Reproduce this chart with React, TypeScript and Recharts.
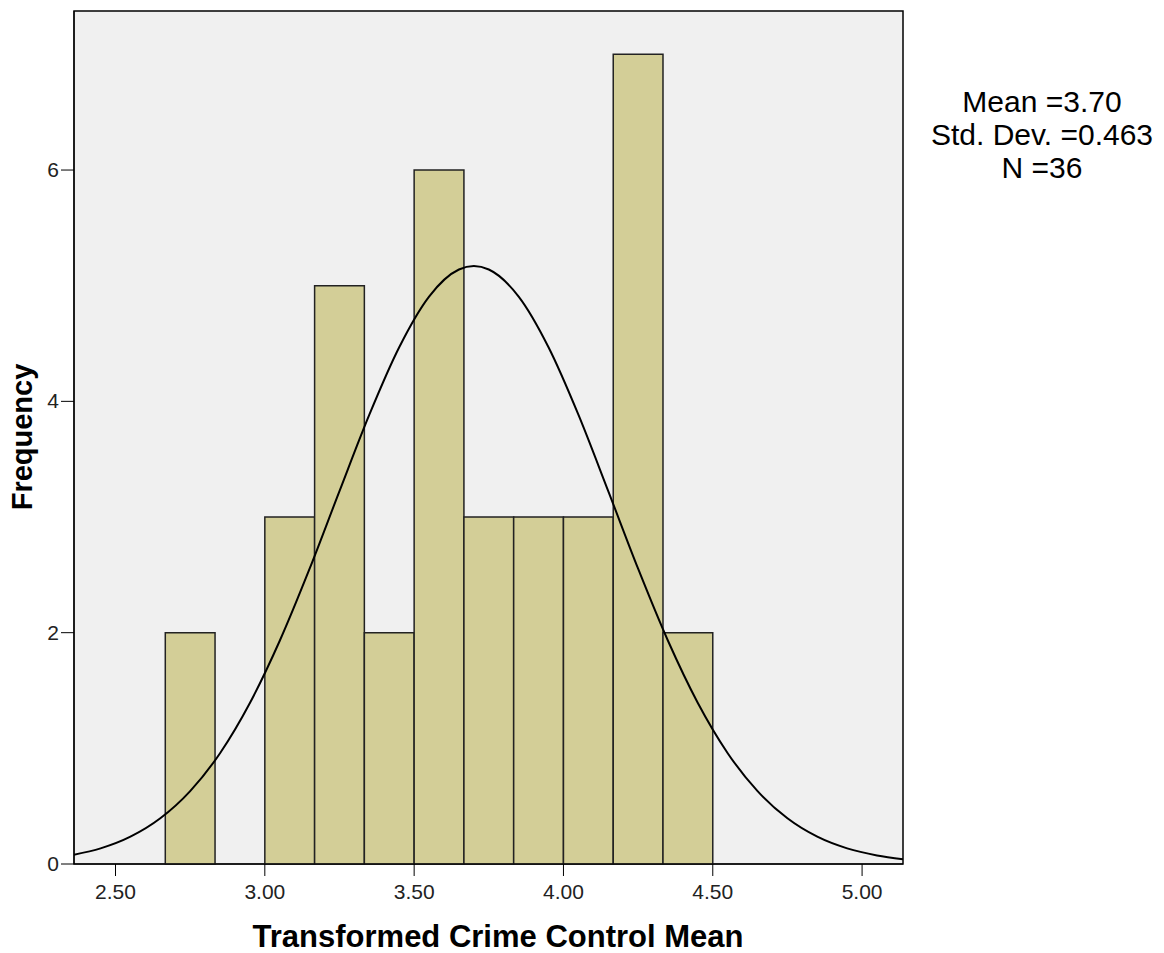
import React from 'react';
import { ComposedChart, Line, XAxis, YAxis, ReferenceArea } from 'recharts';

// histogram bins (bin start, bin end, frequency)
const binStart = [2.6667, 2.8333, 3.0, 3.1667, 3.3333, 3.5, 3.6667, 3.8333, 4.0, 4.1667, 4.3333, 4.5];
const binEnd = [2.8333, 3.0, 3.1667, 3.3333, 3.5, 3.6667, 3.8333, 4.0, 4.1667, 4.3333, 4.5, 4.6667];
const binCount = [2, 0, 3, 5, 2, 6, 3, 3, 3, 7, 2, 0];

// normal curve
const curveX = [2.36, 2.45, 2.55, 2.65, 2.75, 2.85, 2.95, 3.05, 3.15, 3.25, 3.35, 3.45, 3.55, 3.65, 3.7,
  3.75, 3.85, 3.95, 4.05, 4.15, 4.25, 4.35, 4.45, 4.55, 4.65, 4.75, 4.85, 4.95, 5.05, 5.137];
const curveY = [0.08, 0.135, 0.236, 0.395, 0.63, 0.958, 1.392, 1.93, 2.553, 3.224, 3.885, 4.468, 4.906, 5.14, 5.17,
  5.14, 4.906, 4.468, 3.885, 3.224, 2.553, 1.93, 1.392, 0.958, 0.63, 0.395, 0.236, 0.135, 0.074, 0.042];

const xTicks = [2.5, 3.0, 3.5, 4.0, 4.5, 5.0];
const yTicks = [0, 2, 4, 6];
const xDomain = [2.361, 5.137];
const yDomain = [0, 7.375];

const statLines = ['Mean =3.70', 'Std. Dev. =0.463', 'N =36'];

const curveData = curveX.map((x, i) => ({ x, y: curveY[i] }));

const font = '"Liberation Sans", Arial, sans-serif';

const XTick = ({ x, y, payload }: any) => (
  <text x={x} y={y} dy={18} textAnchor="middle" fontSize={21} fill="#222" fontFamily={font}>
    {Number(payload.value).toFixed(2)}
  </text>
);

const YTick = ({ x, y, payload }: any) => (
  <text x={x} y={y} dy={7} textAnchor="end" fontSize={21} fill="#222" fontFamily={font}>
    {payload.value}
  </text>
);

export default function App() {
  return (
    <div style={{ position: 'absolute', left: 0, top: 0, width: 1164, height: 953, background: '#fff', fontFamily: font, overflow: 'hidden' }}>
      <ComposedChart
        width={1164}
        height={953}
        data={curveData}
        margin={{ top: 11, right: 261, bottom: 29, left: 24 }}
      >
        <XAxis
          dataKey="x"
          type="number"
          domain={xDomain}
          ticks={xTicks}
          allowDataOverflow
          tick={<XTick />}
          tickSize={12}
          tickMargin={5}
          stroke="#000"
          height={60}
        />
        <YAxis
          type="number"
          domain={yDomain}
          ticks={yTicks}
          allowDataOverflow
          tick={<YTick />}
          tickSize={13}
          tickMargin={2}
          stroke="#000"
          width={50}
        />
        <ReferenceArea
          x1={xDomain[0]}
          x2={xDomain[1]}
          y1={yDomain[0]}
          y2={yDomain[1]}
          fill="#f0f0f0"
          fillOpacity={1}
          stroke="#000"
          strokeWidth={1.5}
        />
        {binStart.map((s, i) => (
          <ReferenceArea
            key={i}
            x1={s}
            x2={binEnd[i]}
            y1={0}
            y2={binCount[i]}
            fill="#d3ce97"
            fillOpacity={1}
            stroke="#222"
            strokeWidth={1.5}
          />
        ))}
        <Line
          type="monotone"
          dataKey="y"
          stroke="#000"
          strokeWidth={2}
          dot={false}
          isAnimationActive={false}
        />
      </ComposedChart>

      <div style={{ position: 'absolute', left: 0, top: 437, width: 44, height: 0 }}>
        <div style={{
          position: 'absolute', left: 22, top: 0, transform: 'translate(-50%, -50%) rotate(-90deg)',
          fontSize: 29, fontWeight: 'bold', whiteSpace: 'nowrap', color: '#000'
        }}>
          Frequency
        </div>
      </div>

      <div style={{
        position: 'absolute', left: 238, top: 920, width: 520, textAlign: 'center',
        fontSize: 31, fontWeight: 'bold', color: '#000', lineHeight: '33px', whiteSpace: 'nowrap'
      }}>
        Transformed Crime Control Mean
      </div>

      <div style={{
        position: 'absolute', left: 920, top: 85, width: 244, textAlign: 'center',
        fontSize: 30, lineHeight: '33px', color: '#000'
      }}>
        {statLines.map((t) => (
          <div key={t}>{t}</div>
        ))}
      </div>
    </div>
  );
}
